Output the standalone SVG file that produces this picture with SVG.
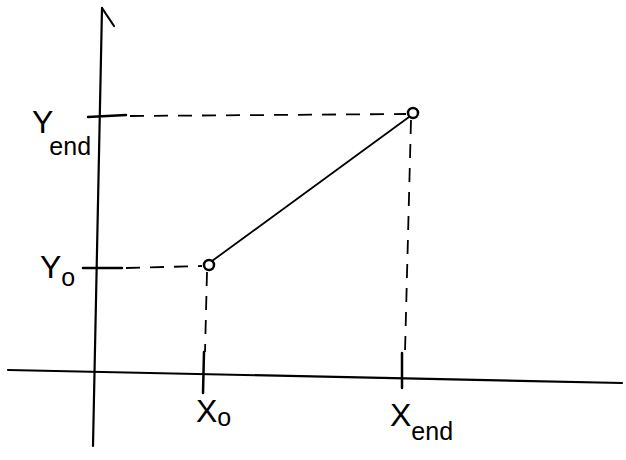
<svg xmlns="http://www.w3.org/2000/svg" width="626" height="460" viewBox="0 0 626 460">
<style>
.axis{stroke:#000;stroke-width:2.2;fill:none;stroke-linecap:round}
.tick{stroke:#000;stroke-width:2.5;fill:none;stroke-linecap:round}
.dash{stroke:#000;stroke-width:1.8;fill:none;stroke-dasharray:14 10}
.seg{stroke:#000;stroke-width:1.8;fill:none}
.pt{stroke:#000;stroke-width:2.5;fill:#fff}
.lbl{font-family:"Liberation Sans",Arial,sans-serif;font-size:32px;fill:#000}
.sub{font-size:25px}
</style>
<rect width="626" height="460" fill="#fff"/>
<g id="axes">
<path class="axis" d="M102,8 L93,446"/>
<path class="axis" d="M102,8 L114,26"/>
<path class="axis" d="M8,370 L622,383"/>
</g>
<g id="ticks">
<path class="tick" d="M88,117 L126,115"/>
<path class="tick" d="M83,268 L122,268"/>
<path class="tick" d="M204,352 L203,393"/>
<path class="tick" d="M402,353 L402,388"/>
</g>
<g id="connectors">
<path class="dash" d="M130,116 L406,114"/>
<path class="dash" d="M126,268 L202,266"/>
<path class="dash" d="M207,272 L205,352"/>
<path class="dash" d="M411,120 L405,352"/>
<path class="seg" d="M212,261 L409,117"/>
</g>
<g id="p0"><circle class="pt" cx="209" cy="265" r="5"/></g>
<g id="pend"><circle class="pt" cx="413" cy="113" r="5"/></g>
<g id="label-yend"><text class="lbl" x="32" y="133">Y<tspan class="sub" dx="-4" dy="22">end</tspan></text></g>
<g id="label-y0"><text class="lbl" x="40" y="278">Y<tspan class="sub" dy="8">o</tspan></text></g>
<g id="label-x0"><text class="lbl" x="196" y="422">X<tspan class="sub" dy="4">o</tspan></text></g>
<g id="label-xend"><text class="lbl" x="390" y="426">X<tspan class="sub" dy="14">end</tspan></text></g>
</svg>
